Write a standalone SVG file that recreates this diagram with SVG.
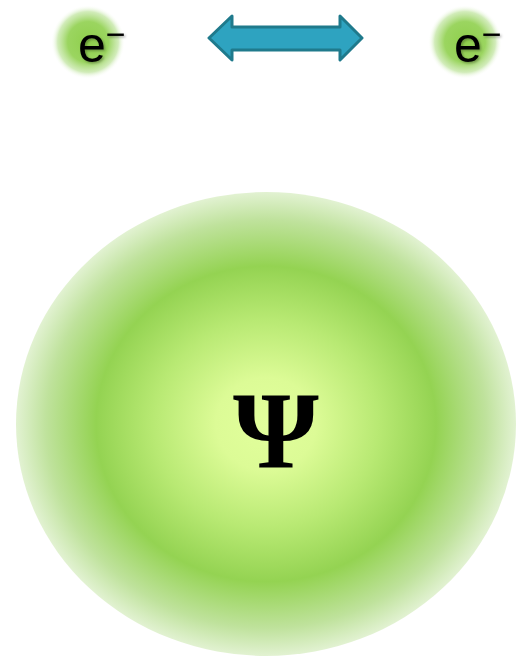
<svg xmlns="http://www.w3.org/2000/svg" width="516" height="657" viewBox="0 0 516 657">
<defs>
<radialGradient id="cloud" cx="0.5" cy="0.5" r="0.5">
<stop offset="0" stop-color="#e2ff9c"/>
<stop offset="0.2" stop-color="#dcfb96"/>
<stop offset="0.45" stop-color="#b8e973"/>
<stop offset="0.68" stop-color="#94d352"/>
<stop offset="0.88" stop-color="#bfe29c"/>
<stop offset="1" stop-color="#e2f2d2"/>
</radialGradient>
<radialGradient id="glow" cx="0.5" cy="0.5" r="0.5">
<stop offset="0" stop-color="#8fcf4c"/>
<stop offset="0.55" stop-color="#9bd560"/>
<stop offset="0.82" stop-color="#c6e7a8" stop-opacity="0.8"/>
<stop offset="1" stop-color="#ffffff" stop-opacity="0"/>
</radialGradient>
<filter id="sh" x="-20%" y="-20%" width="140%" height="140%">
<feDropShadow dx="1.5" dy="1.5" stdDeviation="1" flood-color="#000" flood-opacity="0.3"/>
</filter>
</defs>
<style>
.e{font-family:"Liberation Sans",Arial,"DejaVu Sans",sans-serif;font-size:50px;fill:#000}
.m{font-size:34px}
.psi{font-family:"Liberation Serif","DejaVu Serif",serif;font-size:110px;font-weight:bold;fill:#000}
</style>
<g id="cloud-node">
<ellipse cx="266" cy="424" rx="250" ry="232" fill="url(#cloud)"/>
<text class="psi" x="276" y="468" text-anchor="middle">Ψ</text>
</g>
<g id="electron-left">
<circle cx="88" cy="42" r="37" fill="url(#glow)"/>
<text class="e" x="78" y="62" filter="url(#sh)">e<tspan class="m" dy="-16">−</tspan></text>
</g>
<g id="electron-right">
<circle cx="465" cy="42" r="37" fill="url(#glow)"/>
<text class="e" x="454" y="62" filter="url(#sh)">e<tspan class="m" dy="-16">−</tspan></text>
</g>
<g id="connectors">
<path d="M209,38 L232,16 L232,27 L340,27 L340,16 L362,38 L340,60 L340,50 L232,50 L232,60 Z" fill="#2ea3c0" stroke="#1f7a8c" stroke-width="3" stroke-linejoin="round"/>
</g>
</svg>
